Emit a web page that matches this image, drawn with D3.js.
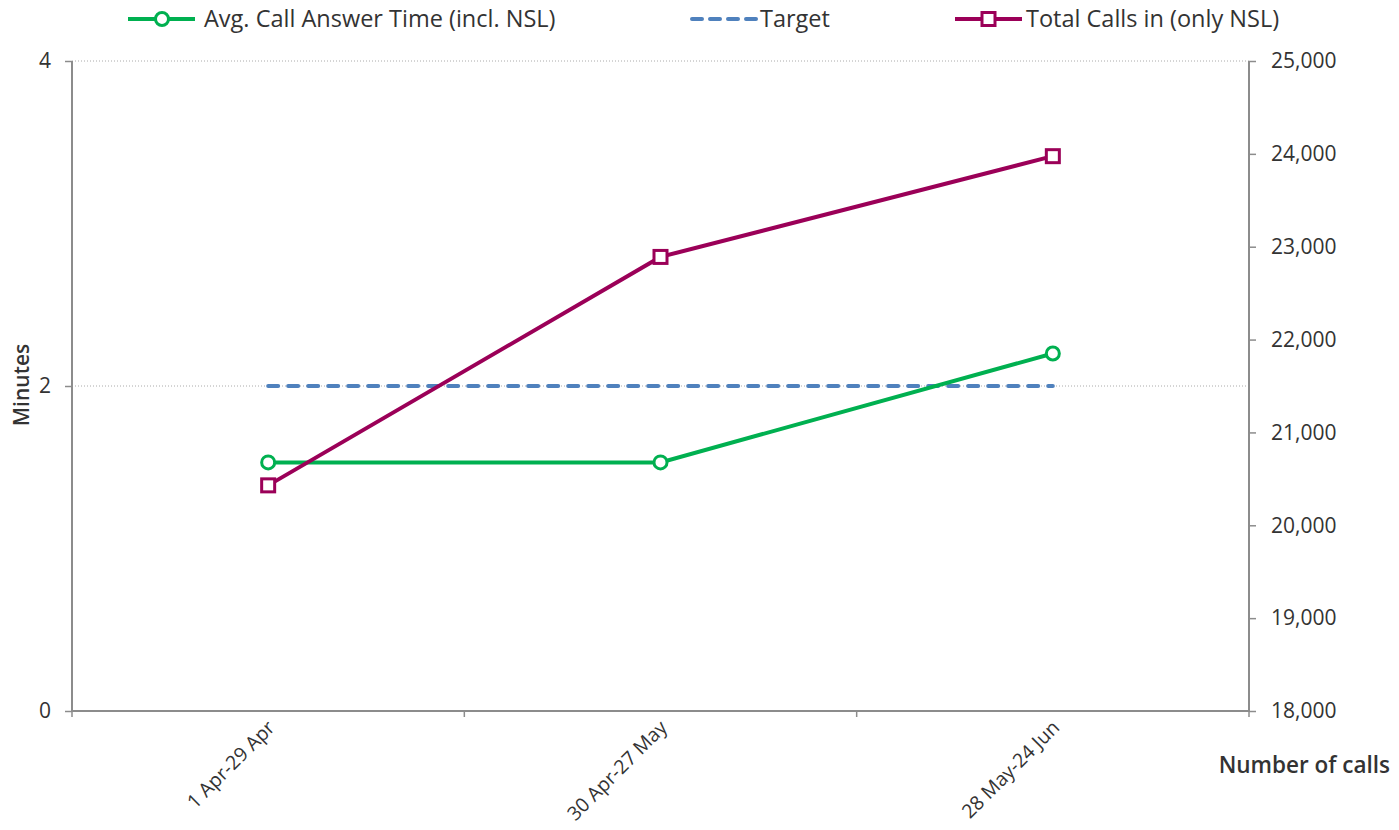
<!DOCTYPE html>
<html><head><meta charset="utf-8">
<script src="https://cdn.jsdelivr.net/npm/d3@7"></script>
<style>body{margin:0;background:#fff}text{font-family:"Open Sans",Lato,sans-serif;fill:#333}</style>
</head><body><svg id="c" width="1399" height="830"></svg>
<script>
const categories = ["1 Apr-29 Apr", "30 Apr-27 May", "28 May-24 Jun"];
const avgAnswerTime = [1.53, 1.53, 2.2];
const target = [2, 2, 2];
const totalCalls = [20430, 22890, 23975];
const leftTicks = [0, 2, 4];
const rightTicks = [18000, 19000, 20000, 21000, 22000, 23000, 24000, 25000];
const seriesNames = ["Avg. Call Answer Time (incl. NSL)", "Target", "Total Calls in (only NSL)"];

const svg = d3.select("#c");
const L = 72, R = 1249, T = 61, B = 711;
const x = d3.scaleBand().domain(categories).range([L, R]);
const yL = d3.scaleLinear().domain([0, 4]).range([B, T]);
const yR = d3.scaleLinear().domain([18000, 25000]).range([B, T]);
const cx = d => x(d) + x.bandwidth() / 2;
const axisCol = "#8c8c8c";
const green = "#00b050", blue = "#4f81bd", purple = "#9b0058";
const FF = '"Open Sans", Lato, sans-serif';

// gridlines
svg.append("g").selectAll("line").data(leftTicks.filter(d => d > 0)).join("line")
  .attr("x1", L).attr("x2", R).attr("y1", d => yL(d)).attr("y2", d => yL(d))
  .attr("stroke", "#aaa").attr("stroke-width", 1).attr("stroke-dasharray", "1,2");

// left axis
const gL = svg.append("g").attr("transform", `translate(${L},0)`)
  .call(d3.axisLeft(yL).tickValues(leftTicks).tickSize(7).tickPadding(14).tickFormat(d3.format("d")));
// right axis
const gR = svg.append("g").attr("transform", `translate(${R},0)`)
  .call(d3.axisRight(yR).tickValues(rightTicks).tickSize(7).tickPadding(15).tickFormat(d3.format(",")));
// bottom axis
const tickPos = [L, ...categories.map(c => x(c) + x.bandwidth())];
const gB = svg.append("g");
gB.append("line").attr("x1", L).attr("x2", R).attr("y1", B).attr("y2", B).attr("stroke", axisCol).attr("stroke-width", 2);
gB.selectAll("line.t").data(tickPos).join("line").attr("class", "t")
  .attr("x1", d => d).attr("x2", d => d).attr("y1", B).attr("y2", B + 6).attr("stroke", axisCol).attr("stroke-width", 1.5);
[gL, gR].forEach(g => {
  g.select(".domain").attr("stroke", axisCol).attr("stroke-width", 2).attr("d", `M0,${T}V${B}`);
  g.selectAll(".tick line").attr("stroke", axisCol).attr("stroke-width", 1.5);
  g.selectAll(".tick text").style("font-size", "21px").attr("fill", "#333").style("font-family", FF);
});

// x labels
svg.append("g").selectAll("text").data(categories).join("text")
  .attr("transform", d => `translate(${cx(d) + 3},${B + 13}) rotate(-45)`)
  .attr("text-anchor", "end").attr("dy", "0.35em").style("font-size", "19.5px").text(d => d);

// axis titles
svg.append("text").attr("transform", `translate(29,${yL(2) - 1}) rotate(-90)`).attr("text-anchor", "middle")
  .style("font-size", "21px").style("font-weight", "600").text("Minutes");
svg.append("text").attr("x", 1390).attr("y", 773).attr("text-anchor", "end")
  .style("font-size", "22.5px").style("font-weight", "600").text("Number of calls");

// lines
const lineL = d3.line().x((d, i) => cx(categories[i])).y(d => yL(d));
const lineR = d3.line().x((d, i) => cx(categories[i])).y(d => yR(d));
svg.append("path").attr("d", lineL(target)).attr("fill", "none").attr("stroke", blue)
  .attr("stroke-width", 4).attr("stroke-dasharray", "10,10").attr("stroke-linecap", "round");
svg.append("path").attr("d", lineL(avgAnswerTime)).attr("fill", "none").attr("stroke", green).attr("stroke-width", 4);
svg.append("path").attr("d", lineR(totalCalls)).attr("fill", "none").attr("stroke", purple).attr("stroke-width", 4);
svg.append("g").selectAll("circle").data(avgAnswerTime).join("circle")
  .attr("cx", (d, i) => cx(categories[i])).attr("cy", d => yL(d)).attr("r", 6.5)
  .attr("fill", "#fff").attr("stroke", green).attr("stroke-width", 3);
svg.append("g").selectAll("rect").data(totalCalls).join("rect")
  .attr("x", (d, i) => cx(categories[i]) - 6.5).attr("y", d => yR(d) - 6.5).attr("width", 13).attr("height", 13)
  .attr("fill", "#fff").attr("stroke", purple).attr("stroke-width", 3);

// legend
const leg = svg.append("g");
const legX = [128, 690, 955];
legX.forEach((lx, i) => {
  const g = leg.append("g").attr("transform", `translate(${lx},19)`);
  if (i === 1) {
    g.append("line").attr("x1", 2).attr("x2", 66).attr("stroke", blue).attr("stroke-width", 4)
      .attr("stroke-dasharray", "10,8").attr("stroke-linecap", "round");
  } else {
    const col = i === 0 ? green : purple;
    g.append("line").attr("x1", 0).attr("x2", 67).attr("stroke", col).attr("stroke-width", 4);
    if (i === 0) g.append("circle").attr("cx", 34).attr("r", 6.5).attr("fill", "#fff").attr("stroke", col).attr("stroke-width", 3);
    else g.append("rect").attr("x", 27).attr("y", -6.5).attr("width", 13).attr("height", 13).attr("fill", "#fff").attr("stroke", col).attr("stroke-width", 3);
  }
  g.append("text").attr("x", i === 0 ? 76 : (i === 1 ? 70 : 71)).attr("dy", "0.35em").style("font-size", "23.5px").text(seriesNames[i]);
});
</script></body></html>
